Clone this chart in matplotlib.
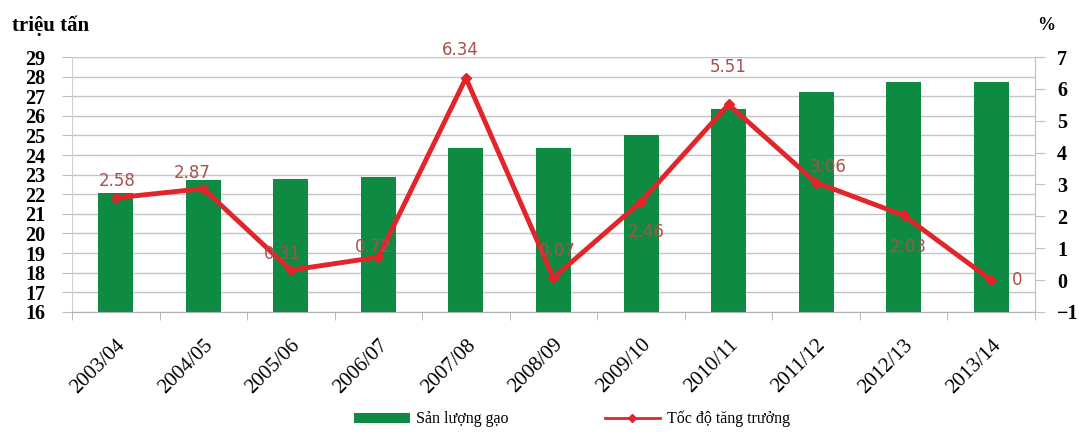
import numpy as np
import matplotlib
matplotlib.use("Agg")
import matplotlib.pyplot as plt
from matplotlib.patches import Patch
from matplotlib.lines import Line2D

# Rice output (million tonnes) and growth rate (%) by crop year
years = ["2003/04", "2004/05", "2005/06", "2006/07", "2007/08", "2008/09",
         "2009/10", "2010/11", "2011/12", "2012/13", "2013/14"]
production = [22.07, 22.72, 22.77, 22.90, 24.37, 24.37, 25.01, 26.37, 27.22, 27.75, 27.75]
growth = [2.58, 2.87, 0.31, 0.72, 6.34, 0.07, 2.46, 5.51, 3.06, 2.03, 0]
growth_labels = ["2.58", "2.87", "0.31", "0.72", "6.34", "0.07", "2.46", "5.51", "3.06", "2.03", "0"]

GREEN = "#0f8a43"
RED = "#e0252b"
LABEL = "#a8504c"
GRID = "#c4c4c4"
SERIF = "Liberation Serif"

fig = plt.figure(figsize=(10.79, 4.32), dpi=100)
ax = fig.add_axes([0.0667, 0.278, 0.8925, 0.590])
x = np.arange(len(years))

ax.bar(x, production, width=0.4, color=GREEN, zorder=2)
ax.set_ylim(16, 29)
ax.set_xlim(-0.5, len(years) - 0.5)
ax.set_yticks(range(16, 30))
ax.grid(axis="y", color=GRID, linewidth=1, zorder=0)
ax.set_axisbelow(True)

ax.spines["top"].set_visible(False)
ax.spines["left"].set_color("#d0d0d0")
ax.spines["bottom"].set_color("#b0b0b0")
ax.spines["right"].set_visible(False)

ax.tick_params(axis="y", length=7, color="#c0c0c0", pad=12)
for lab in ax.get_yticklabels():
    lab.set_fontfamily(SERIF)
    lab.set_fontweight("bold")
    lab.set_fontsize(14.5)

# category labels, with tick marks between categories
ax.set_xticks(x)
ax.set_xticklabels(years, rotation=45, ha="right", rotation_mode="anchor",
                   fontfamily=SERIF, fontsize=15)
ax.tick_params(axis="x", which="major", length=0, pad=17)
ax.set_xticks(np.arange(-0.5, len(years), 1), minor=True)
ax.tick_params(axis="x", which="minor", length=6, color="#b0b0b0")

# growth rate on the right axis
ax2 = ax.twinx()
ax2.set_ylim(-1, 7)
ax2.set_yticks(range(-1, 8))
ax2.plot(x, growth, color=RED, linewidth=3.5, marker="D", markersize=5, zorder=3)
for s in ["top", "left", "bottom"]:
    ax2.spines[s].set_visible(False)
ax2.spines["right"].set_color("#c0c0c0")
ax2.tick_params(axis="y", length=7, color="#c0c0c0", pad=9)
for lab in ax2.get_yticklabels():
    lab.set_fontfamily(SERIF)
    lab.set_fontweight("bold")
    lab.set_fontsize(14.5)

# data labels: (dx, dy) offsets in points
offsets = [(1, 12), (-8, 11), (-6, 12), (-4, 7), (-4, 20), (3, 19), (4, -22), (0, 27),
           (9, 11), (3, -23), (19, 0)]
for xi, g, txt, (dx, dy) in zip(x, growth, growth_labels, offsets):
    ax2.annotate(txt, (xi, g), xytext=(dx, dy), textcoords="offset points",
                 ha="center", va="center", fontsize=12, color=LABEL,
                 fontfamily="DejaVu Sans", zorder=4)

fig.text(0.011, 0.94, "triệu tấn", fontfamily=SERIF, fontweight="bold",
         fontsize=15, ha="left", va="center")
fig.text(0.961, 0.94, "%", fontfamily=SERIF, fontweight="bold",
         fontsize=13, ha="left", va="center")

handles = [Patch(facecolor=GREEN, edgecolor="none"),
           Line2D([0], [0], color=RED, linewidth=2, marker="D", markersize=4)]
fig.legend(handles, ["Sản lượng gạo", "Tốc độ tăng trưởng"], loc="center",
           bbox_to_anchor=(0.53, 0.03), ncol=2, frameon=False,
           prop={"family": SERIF, "size": 11.5}, handlelength=3.5,
           handleheight=0.6, handletextpad=0.4, columnspacing=6)

fig.savefig("out.png", dpi=100)
